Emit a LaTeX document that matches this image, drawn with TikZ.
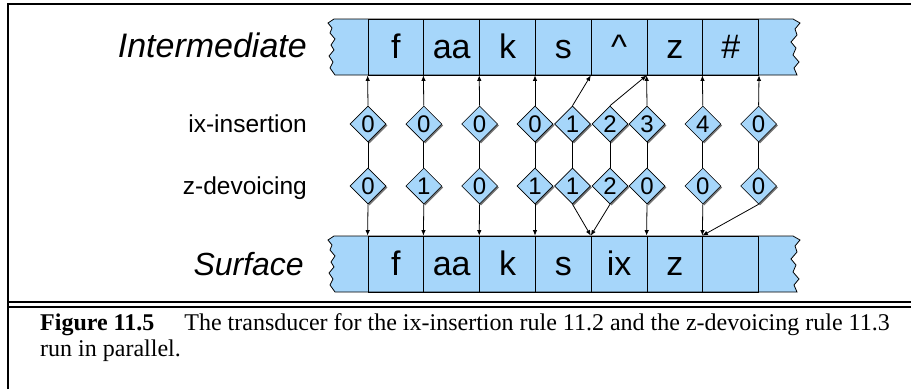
\documentclass[tikz,border=0pt]{standalone}
\usepackage{fontspec}
\setmainfont{Liberation Serif}
\newfontfamily\hv{Liberation Sans}
\usetikzlibrary{shapes.geometric,shadows,arrows.meta}
\definecolor{tapeblue}{RGB}{166,214,250}
\begin{document}
\begin{tikzpicture}[x=1pt,y=-1pt,
  tapebody/.style={fill=tapeblue,draw=black,line width=0.8pt,line join=miter},
  cell/.style={draw=black,line width=0.8pt,minimum width=55.8pt,minimum height=56pt,inner sep=0pt,
    font=\hv\fontsize{34}{34}\selectfont,text height=24pt,text depth=2pt},
  dia/.style={diamond,draw=black,line width=0.6pt,fill=tapeblue,minimum width=36pt,minimum height=36pt,
    inner sep=0pt,font=\hv\fontsize{24}{24}\selectfont,
    drop shadow={shadow xshift=1.5pt,shadow yshift=-1.5pt,opacity=0.55,fill=black}},
  bigl/.style={font=\hv\itshape\fontsize{34}{34}\selectfont,inner sep=0pt},
  smalll/.style={font=\hv\fontsize{24.5}{24.5}\selectfont,inner sep=0pt},
  conn/.style={draw=black,line width=0.8pt},
  arr/.style={conn,-{Latex[length=5.5pt,width=4.5pt]}},
  frameline/.style={line width=2.2pt}]
\useasboundingbox (0,0) rectangle (911,389);

% frame
\draw[frameline] (8,389) -- (8,4) -- (911,4);
\draw[frameline] (8,302) -- (911,302);
\draw[frameline] (8,307) -- (911,307);

% tapes
\path[tapebody] (334,19) -- (793,19) -- (800,23) -- (795,29) -- (797,35) -- (791,42) -- (796,48) -- (793,55)
  -- (799,62) -- (794,68) -- (797,75) -- (335,75) -- (330,68) -- (333,62) -- (329,56) -- (334,50) -- (331,45)
  -- (335,39) -- (330,33) -- (332,28) -- (328,23) -- cycle;
\path[tapebody] (334,236) -- (793,236) -- (800,240) -- (795,246) -- (797,252) -- (791,259) -- (796,265) -- (793,272)
  -- (799,279) -- (794,285) -- (797,292) -- (335,292) -- (330,285) -- (333,279) -- (329,273) -- (334,267) -- (331,262)
  -- (335,256) -- (330,250) -- (332,245) -- (328,240) -- cycle;

\node[cell] (t1) at (395.9,47) {f};
\node[cell] (t2) at (451.7,47) {aa};
\node[cell] (t3) at (507.5,47) {k};
\node[cell] (t4) at (563.3,47) {s};
\node[cell] (t5) at (619.1,47) {\textasciicircum};
\node[cell] (t6) at (674.9,47) {z};
\node[cell] (t7) at (730.7,47) {\#};

\node[cell] (s1) at (395.9,264) {f};
\node[cell] (s2) at (451.7,264) {aa};
\node[cell] (s3) at (507.5,264) {k};
\node[cell] (s4) at (563.3,264) {s};
\node[cell] (s5) at (619.1,264) {ix};
\node[cell] (s6) at (674.9,264) {z};
\node[cell] (s7) at (730.7,264) {};

% labels
\node[bigl,anchor=base east] (lint) at (307,57) {Intermediate};
\node[bigl,anchor=base east,font=\hv\itshape\fontsize{32}{32}\selectfont] (lsur) at (304,275) {Surface};
\node[smalll,anchor=base east] (lix) at (307,132) {ix-insertion};
\node[smalll,anchor=base east] (lz) at (307,194) {z-devoicing};

% diamonds
\node[dia] (a1) at (368,124) {0};
\node[dia] (a2) at (423.8,124) {0};
\node[dia] (a3) at (479.6,124) {0};
\node[dia] (a4) at (535,124) {0};
\node[dia] (a5) at (572.5,124) {1};
\node[dia] (a6) at (610,124) {2};
\node[dia] (a7) at (647,124) {3};
\node[dia] (a8) at (702.8,124) {4};
\node[dia] (a9) at (758.6,124) {0};

\node[dia] (b1) at (368,186) {0};
\node[dia] (b2) at (423.8,186) {1};
\node[dia] (b3) at (479.6,186) {0};
\node[dia] (b4) at (535,186) {1};
\node[dia] (b5) at (572.5,186) {1};
\node[dia] (b6) at (610,186) {2};
\node[dia] (b7) at (647,186) {0};
\node[dia] (b8) at (702.8,186) {0};
\node[dia] (b9) at (758.6,186) {0};

% connectors to intermediate tape
\draw[arr] (a1.north) -- (t1.south west);
\draw[arr] (a2.north) -- (t2.south west);
\draw[arr] (a3.north) -- (t3.south west);
\draw[arr] (a4.north) -- (t4.south west);
\draw[arr] (a5.north) -- (t5.south west);
\draw[arr] (a6.north) -- (t6.south west);
\draw[arr] (a7.north) -- (t6.south west);
\draw[arr] (a8.north) -- (t7.south west);
\draw[arr] (a9.north) -- (t7.south east);

% between rows
\foreach \i in {1,...,9} { \draw[conn] (a\i.south) -- (b\i.north); }

% connectors to surface tape
\draw[arr] (b1.south) -- (s1.north west);
\draw[arr] (b2.south) -- (s2.north west);
\draw[arr] (b3.south) -- (s3.north west);
\draw[arr] (b4.south) -- (s4.north west);
\draw[arr] (b5.south) -- (s5.north west);
\draw[arr] (b6.south) -- (s5.north west);
\draw[arr] (b7.south) -- (s6.north west);
\draw[arr] (b8.south) -- (s7.north west);
\draw[arr] (b9.south) -- (s7.north west);

% caption
\node[anchor=base west,inner sep=0pt,font=\fontsize{24}{24}\selectfont] (cap1) at (40,330)
  {\textbf{Figure 11.5}\hspace{30pt}The transducer for the ix-insertion rule 11.2 and the z-devoicing rule 11.3};
\node[anchor=base west,inner sep=0pt,font=\fontsize{24}{24}\selectfont] (cap2) at (40,356) {run in parallel.};
\end{tikzpicture}
\end{document}
